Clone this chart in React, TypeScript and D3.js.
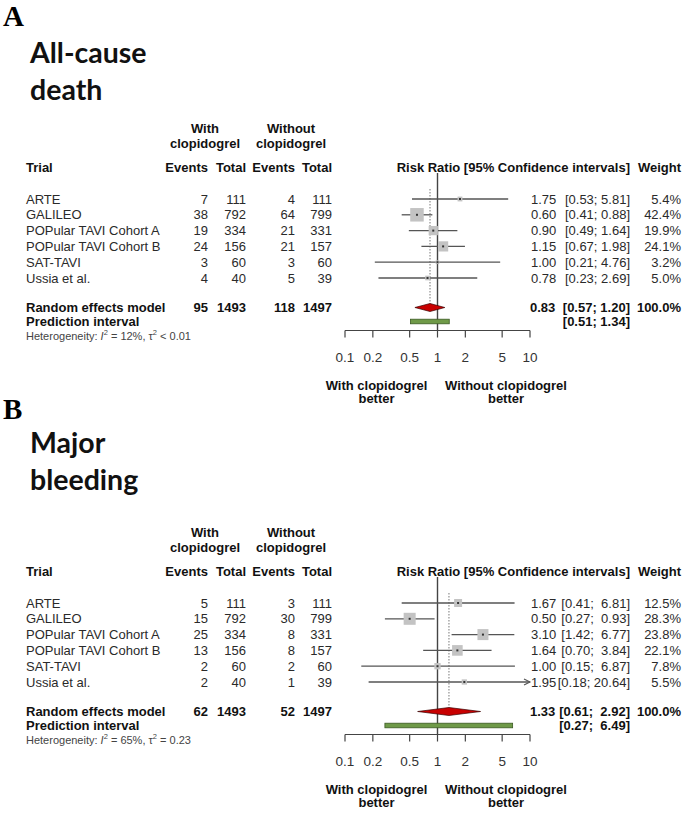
import React from 'react';
import * as d3 from 'd3';

// ---------- data ----------
const trials = ['ARTE', 'GALILEO', 'POPular TAVI Cohort A', 'POPular TAVI Cohort B', 'SAT-TAVI', 'Ussia et al.'];
const axisTicks = [0.1, 0.2, 0.5, 1, 2, 5, 10];

// A: all-cause death
const deathEventsWith = [7, 38, 19, 24, 3, 4];
const deathTotalWith = [111, 792, 334, 156, 60, 40];
const deathEventsWithout = [4, 64, 21, 21, 3, 5];
const deathTotalWithout = [111, 799, 331, 157, 60, 39];
const deathRR = [1.75, 0.6, 0.9, 1.15, 1.0, 0.78];
const deathLower = [0.53, 0.41, 0.49, 0.67, 0.21, 0.23];
const deathUpper = [5.81, 0.88, 1.64, 1.98, 4.76, 2.69];
const deathWeight = [5.4, 42.4, 19.9, 24.1, 3.2, 5.0];
const deathPooled = [0.83, 0.57, 1.2]; // RR, lower, upper
const deathPI = [0.51, 1.34];
const deathTotals = [95, 1493, 118, 1497];
const deathHet = ['12%', '< 0.01'];

// B: major bleeding
const bleedEventsWith = [5, 15, 25, 13, 2, 2];
const bleedTotalWith = [111, 792, 334, 156, 60, 40];
const bleedEventsWithout = [3, 30, 8, 8, 2, 1];
const bleedTotalWithout = [111, 799, 331, 157, 60, 39];
const bleedRR = [1.67, 0.5, 3.1, 1.64, 1.0, 1.95];
const bleedLower = [0.41, 0.27, 1.42, 0.7, 0.15, 0.18];
const bleedUpper = [6.81, 0.93, 6.77, 3.84, 6.87, 20.64];
const bleedWeight = [12.5, 28.3, 23.8, 22.1, 7.8, 5.5];
const bleedPooled = [1.33, 0.61, 2.92];
const bleedPI = [0.27, 6.49];
const bleedTotals = [62, 1493, 52, 1497];
const bleedHet = ['65%', '= 0.23'];

const panels = [
  {
    label: 'A', title: ['All-cause', 'death'], labelY: 26, titleY: [63, 100], dy: 0, maxSide: 13.5,
    ev1: deathEventsWith, n1: deathTotalWith, ev2: deathEventsWithout, n2: deathTotalWithout,
    rr: deathRR, lo: deathLower, hi: deathUpper, w: deathWeight,
    pooled: deathPooled, pi: deathPI, totals: deathTotals, het: deathHet,
  },
  {
    label: 'B', title: ['Major', 'bleeding'], labelY: 419, titleY: [453, 490], dy: 404, maxSide: 12,
    ev1: bleedEventsWith, n1: bleedTotalWith, ev2: bleedEventsWithout, n2: bleedTotalWithout,
    rr: bleedRR, lo: bleedLower, hi: bleedUpper, w: bleedWeight,
    pooled: bleedPooled, pi: bleedPI, totals: bleedTotals, het: bleedHet,
  },
];

const FONT = 'Liberation Sans, Arial, Helvetica, sans-serif';
const x = d3.scaleLog().domain([0.1, 10]).range([345, 530]);
const f2 = (v: number) => v.toFixed(2);

function Panel({ p }: { p: any }) {
  const base = (c: number) => c + 4.6; // center -> baseline for 13px text
  const rowY = (i: number) => 199 + i * 15.8;
  const maxW = d3.max(p.w as number[]) as number;
  const side = (w: number) => p.maxSide * Math.sqrt(w / maxW);
  const hiLen = d3.max([...p.hi, p.pooled[2], p.pi[1]].map((v: number) => f2(v).length)) as number;
  const pad = (s: string) => ' '.repeat(Math.max(0, hiLen - s.length)) + s;
  const ci = (lo: number, hi: number) => `[${f2(lo)}; ${pad(f2(hi))}]`;
  const yRE = 307.5;
  const yPI = 321.5;
  const yAxis = 330.5;
  const normal = { fontFamily: FONT, fontSize: 13, fill: '#2a2a2a' } as any;
  const bold = { fontFamily: FONT, fontSize: 13, fontWeight: 'bold', fill: '#111' } as any;
  const x1 = x(1);
  const cols = [208, 246, 295, 332];
  return (
    <g>
      <text x={3} y={p.labelY} style={{ fontFamily: 'Liberation Serif, Times New Roman, serif', fontSize: 29, fontWeight: 'bold' }} fill="#000">{p.label}</text>
      {p.title.map((t: string, i: number) => (
        <text key={t} x={30} y={p.titleY[i]} style={{ fontFamily: 'Lato, sans-serif', fontSize: 28.5, fontWeight: 700 }} fill="#111">{t}</text>
      ))}
      <g transform={`translate(0,${p.dy})`}>
        {/* headers */}
        <text x={205} y={base(128)} textAnchor="middle" style={bold}>With</text>
        <text x={205} y={base(143)} textAnchor="middle" style={bold}>clopidogrel</text>
        <text x={291} y={base(128)} textAnchor="middle" style={bold}>Without</text>
        <text x={291} y={base(143)} textAnchor="middle" style={bold}>clopidogrel</text>
        <text x={26} y={base(167)} style={bold}>Trial</text>
        {['Events', 'Total', 'Events', 'Total'].map((h, i) => (
          <text key={i} x={cols[i]} y={base(167)} textAnchor="end" style={bold}>{h}</text>
        ))}
        <text x={630} y={base(167)} textAnchor="end" style={bold}>Risk Ratio [95% Confidence intervals]</text>
        <text x={681} y={base(167)} textAnchor="end" style={bold}>Weight</text>

        {/* reference lines */}
        <line x1={x1} x2={x1} y1={173} y2={yAxis} stroke="#444" strokeWidth={1.4} />
        <line x1={x(p.pooled[0])} x2={x(p.pooled[0])} y1={189} y2={yRE - 4} stroke="#777" strokeWidth={1} strokeDasharray="1.5,1.5" />

        {/* studies */}
        {trials.map((t, i) => {
          const cy = rowY(i);
          const s = side(p.w[i]);
          const over = p.hi[i] > 10;
          const xr = over ? x(10) : x(p.hi[i]);
          const xl = x(Math.max(0.1, p.lo[i]));
          return (
            <g key={t}>
              <text x={26} y={base(cy)} style={normal}>{t}</text>
              {[p.ev1[i], p.n1[i], p.ev2[i], p.n2[i]].map((v: number, k: number) => (
                <text key={k} x={cols[k]} y={base(cy)} textAnchor="end" style={normal}>{v}</text>
              ))}
              <line x1={xl} x2={xr} y1={cy} y2={cy} stroke="#555" strokeWidth={1.3} />
              {over && <path d={`M${xr - 6},${cy - 3} L${xr},${cy} L${xr - 6},${cy + 3}`} fill="none" stroke="#555" strokeWidth={1.1} />}
              <rect x={x(p.rr[i]) - s / 2} y={cy - s / 2} width={s} height={s} fill="#c3c3c3" />
              <rect x={x(p.rr[i]) - 1} y={cy - 1} width={2} height={2} fill="#333" />
              <text x={531} y={base(cy)} style={normal}>{f2(p.rr[i])}</text>
              <text x={630} y={base(cy)} textAnchor="end" style={{ ...normal, whiteSpace: 'pre' }}>{ci(p.lo[i], p.hi[i])}</text>
              <text x={681} y={base(cy)} textAnchor="end" style={normal}>{p.w[i].toFixed(1)}%</text>
            </g>
          );
        })}

        {/* pooled */}
        <text x={26} y={base(yRE)} style={bold}>Random effects model</text>
        {p.totals.map((v: number, k: number) => (
          <text key={k} x={cols[k]} y={base(yRE)} textAnchor="end" style={bold}>{v}</text>
        ))}
        <path
          d={`M${x(p.pooled[1])},${yRE} L${x(p.pooled[0])},${yRE - 4} L${x(p.pooled[2])},${yRE} L${x(p.pooled[0])},${yRE + 4} Z`}
          fill="#c80000" stroke="#3a0000" strokeWidth={0.7}
        />
        <text x={530} y={base(yRE)} style={bold}>{f2(p.pooled[0])}</text>
        <text x={630} y={base(yRE)} textAnchor="end" style={{ ...bold, whiteSpace: 'pre' }}>{ci(p.pooled[1], p.pooled[2])}</text>
        <text x={681} y={base(yRE)} textAnchor="end" style={bold}>100.0%</text>

        <text x={26} y={base(yPI)} style={bold}>Prediction interval</text>
        <rect x={x(p.pi[0])} y={yPI - 2.3} width={x(p.pi[1]) - x(p.pi[0])} height={4.6} fill="#6f9a48" stroke="#3b5a22" strokeWidth={0.8} />
        <text x={630} y={base(yPI)} textAnchor="end" style={{ ...bold, whiteSpace: 'pre' }}>{ci(p.pi[0], p.pi[1])}</text>

        <text x={26} y={340} style={{ fontFamily: FONT, fontSize: 11, fill: '#444' }}>
          Heterogeneity: <tspan fontStyle="italic">I</tspan>
          <tspan dy={-5} fontSize={7.5}>2</tspan>
          <tspan dy={5}>{` = ${p.het[0]}, \u03c4`}</tspan>
          <tspan dy={-5} fontSize={7.5}>2</tspan>
          <tspan dy={5}>{` ${p.het[1]}`}</tspan>
        </text>

        {/* axis */}
        <line x1={x(0.1)} x2={x(10)} y1={yAxis} y2={yAxis} stroke="#444" strokeWidth={1.2} />
        {axisTicks.map((t) => (
          <g key={t}>
            <line x1={x(t)} x2={x(t)} y1={yAxis} y2={yAxis + 7} stroke="#444" strokeWidth={1.2} />
            <text x={x(t)} y={base(357)} textAnchor="middle" style={{ ...normal, fontSize: 13.5, fill: '#333' }}>{t}</text>
          </g>
        ))}
        <text x={376.5} y={base(385)} textAnchor="middle" style={bold}>With clopidogrel</text>
        <text x={376.5} y={base(398.5)} textAnchor="middle" style={bold}>better</text>
        <text x={506} y={base(385)} textAnchor="middle" style={bold}>Without clopidogrel</text>
        <text x={506} y={base(398.5)} textAnchor="middle" style={bold}>better</text>
      </g>
    </g>
  );
}

export default function App() {
  return (
    <svg width={685} height={813} style={{ position: 'absolute', left: 0, top: 0, background: '#fff' }}>
      <rect width={685} height={813} fill="#fff" />
      {panels.map((p) => (
        <Panel key={p.label} p={p} />
      ))}
    </svg>
  );
}
